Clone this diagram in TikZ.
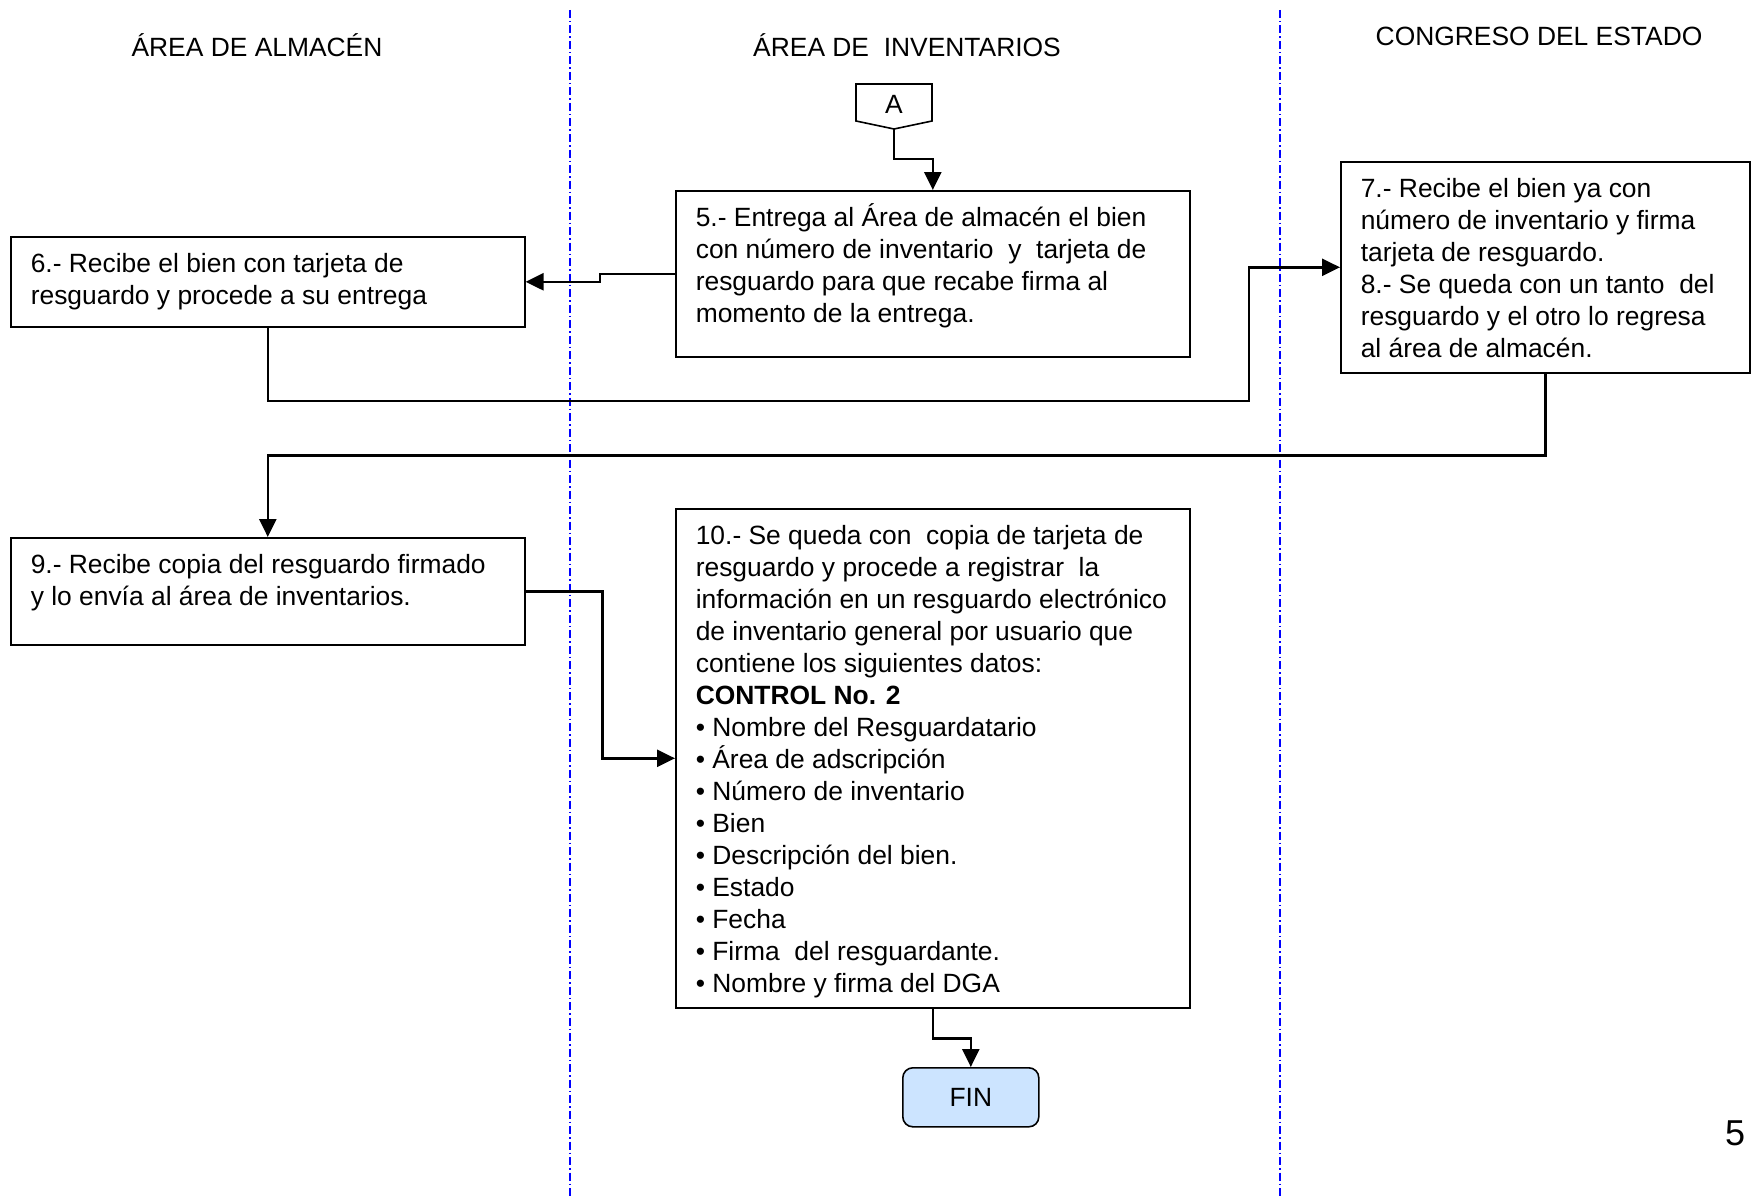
\documentclass[tikz,border=0pt]{standalone}
\usepackage{fontspec}
\setmainfont{Liberation Sans}
\usetikzlibrary{arrows.meta}
\definecolor{finblue}{HTML}{CCE4FF}
\newcommand{\pbx}[3]{\parbox[t][#2pt][t]{#1pt}{\raggedright\leftskip=20pt\relax\rule{0pt}{36pt}#3\par}}
\tikzset{
  procbox/.style={draw, line width=1.6pt, inner sep=0pt, anchor=north west},
  conn/.style={line width=2.6pt, -{Triangle[length=18pt,width=17pt]}},
  divider/.style={blue, line width=1.5pt, dash pattern=on 8pt off 3pt on 1.5pt off 3pt},
  title/.style={inner sep=0pt},
}
\begin{document}
\begin{tikzpicture}[x=1pt,y=-1pt,font=\fontsize{26.4pt}{32pt}\selectfont]
\useasboundingbox[fill=white] (0,0) rectangle (1752,1196);
% lane dividers
\draw[divider] (570,10) -- (570,1196);
\draw[divider] (1280,10) -- (1280,1196);
% titles
\node[title] (t1) at (257,45) {ÁREA DE ALMACÉN};
\node[title] (t2) at (907,45) {ÁREA DE\ \ INVENTARIOS};
\node[title] (t3) at (1539,36) {CONGRESO DEL ESTADO};
% off-page connector A
\draw[line width=1.6pt] (856,84) -- (932,84) -- (932,121) -- (894,129) -- (856,121) -- cycle;
\node (A) at (894,104) {A};
\coordinate (Atip) at (894,129);
% boxes
\node[procbox] (b5) at (675,190) {\pbx{514}{166}{5.- Entrega al Área de almacén el bien\\con número de inventario\ \ y\ \ tarjeta de\\resguardo para que recabe firma al\\momento de la entrega.}};
\node[procbox] (b6) at (10,236) {\pbx{514}{90}{6.- Recibe el bien con tarjeta de\\resguardo y procede a su entrega}};
\node[procbox] (b7) at (1340,161) {\pbx{409}{211}{7.- Recibe el bien ya con\\número de inventario y firma\\tarjeta de resguardo.\\8.- Se queda con un tanto\ \ del\\resguardo y el otro lo regresa\\al área de almacén.}};
\node[procbox] (b9) at (10,537) {\pbx{514}{107}{9.- Recibe copia del resguardo firmado\\y lo envía al área de inventarios.}};
\node[procbox] (b10) at (675,508) {\pbx{514}{499}{10.- Se queda con\ \ copia de tarjeta de\\resguardo y procede a registrar\ \ la\\información en un resguardo electrónico\\de inventario general por usuario que\\contiene los siguientes datos:\\\textbf{CONTROL No. 2}\\• Nombre del Resguardatario\\• Área de adscripción\\• Número de inventario\\• Bien\\• Descripción del bien.\\• Estado\\• Fecha\\• Firma\ \ del resguardante.\\• Nombre y firma del DGA}};
\node[draw, line width=1.6pt, fill=finblue, rounded corners=10pt, minimum width=136pt, minimum height=59pt, inner sep=0pt, anchor=north west] (fin) at (902,1067) {FIN};
% page number
\node[font=\fontsize{36pt}{40pt}\selectfont] (pg) at (1735,1133) {5};
% connectors
\draw[conn] (Atip) -- ++(0,30) -| (b5.north);
\draw[conn] (b5.west) -- ++(-75,0) |- (b6.east);
\draw[conn] (b6.south) |- (1249,401) |- (b7.west);
\draw[conn] (b7.south) -- ++(0,82) -| (b9.north);
\draw[conn] (b9.east) -- ++(77,0) |- (b10.west);
\draw[conn] (b10.south) -- ++(0,30) -| (fin.north);
\end{tikzpicture}
\end{document}
